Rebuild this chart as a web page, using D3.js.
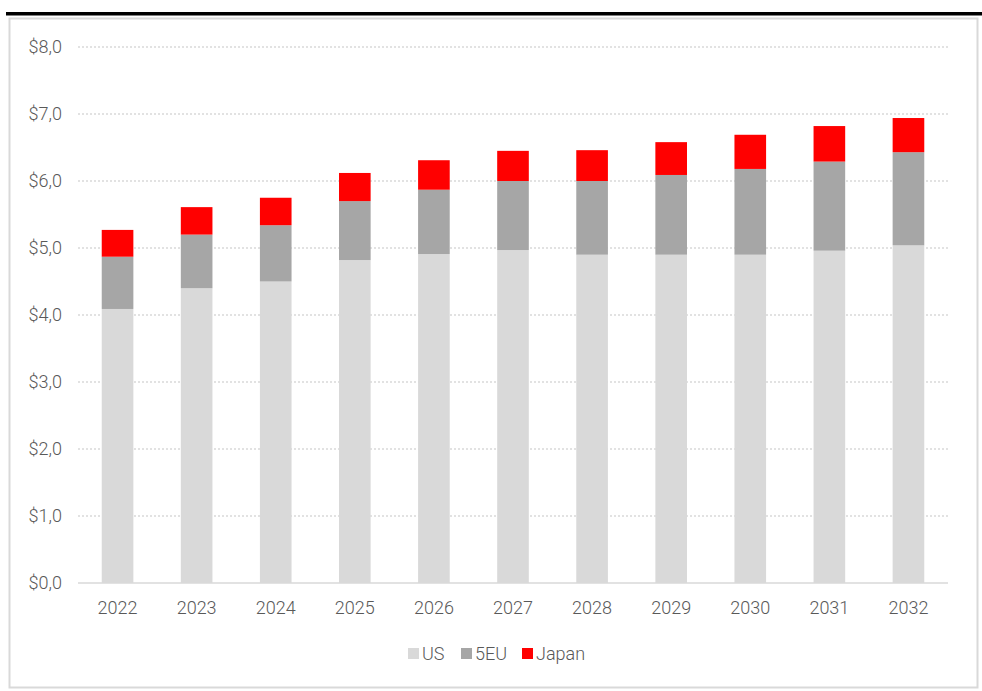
<!DOCTYPE html>
<html>
<head>
<meta charset="utf-8">
<script src="https://cdn.jsdelivr.net/npm/d3@7"></script>
<style>
  body { margin: 0; background: #fff; }
  text { font-family: Roboto, "Liberation Sans", sans-serif; font-weight: 300; }
</style>
</head>
<body>
<svg width="982" height="691"></svg>
<script>
const years = ['2022', '2023', '2024', '2025', '2026', '2027', '2028', '2029', '2030', '2031', '2032']
const us = [4.09, 4.40, 4.50, 4.82, 4.91, 4.97, 4.90, 4.90, 4.90, 4.96, 5.04]
const eu5 = [0.78, 0.80, 0.84, 0.88, 0.96, 1.03, 1.10, 1.19, 1.28, 1.33, 1.39]
const japan = [0.40, 0.41, 0.41, 0.42, 0.44, 0.45, 0.46, 0.49, 0.51, 0.53, 0.51]
const yTicks = [0, 1, 2, 3, 4, 5, 6, 7, 8]
const seriesNames = ['US', '5EU', 'Japan']
const colors = ['#d9d9d9', '#a6a6a6', '#ff0000']

const padding = { top: 47, bottom: 583, left: 78, right: 948 }

const svg = d3.select('svg')

// top rule and frame
svg.append('rect')
  .attr('x', 6).attr('y', 12).attr('width', 976).attr('height', 3.5)
  .attr('fill', '#000')
svg.append('rect')
  .attr('x', 9.5).attr('y', 18.5).attr('width', 968).attr('height', 669)
  .attr('fill', 'none').attr('stroke', '#d9d9d9').attr('stroke-width', 2)

const table = years.map((y, i) => ({ year: y, US: us[i], '5EU': eu5[i], Japan: japan[i] }))
const stacked = d3.stack().keys(seriesNames)(table)

const xScale = d3.scaleBand()
  .domain(years)
  .range([padding.left, padding.right])
  .paddingInner(0.6)
  .paddingOuter(0.3)

const yScale = d3.scaleLinear()
  .domain([0, 8])
  .range([padding.bottom, padding.top])

// gridlines
svg.append('g')
  .selectAll('line')
  .data(yTicks.slice(1))
  .enter()
  .append('line')
  .attr('x1', padding.left)
  .attr('x2', padding.right)
  .attr('y1', d => yScale(d))
  .attr('y2', d => yScale(d))
  .attr('stroke', '#d9d9d9')
  .attr('stroke-width', 1.3)
  .attr('stroke-dasharray', '2,2')

// bars
svg.append('g')
  .selectAll('g')
  .data(stacked)
  .enter()
  .append('g')
  .attr('fill', (d, i) => colors[i])
  .selectAll('rect')
  .data(d => d)
  .enter()
  .append('rect')
  .attr('x', d => xScale(d.data.year))
  .attr('width', xScale.bandwidth())
  .attr('y', d => yScale(d[1]))
  .attr('height', d => yScale(d[0]) - yScale(d[1]))

// baseline
svg.append('line')
  .attr('x1', padding.left).attr('x2', padding.right)
  .attr('y1', yScale(0)).attr('y2', yScale(0))
  .attr('stroke', '#d9d9d9').attr('stroke-width', 1.3)

// y labels
const fmt = d => '$' + d.toFixed(1).replace('.', ',')
svg.append('g')
  .selectAll('text')
  .data(yTicks)
  .enter()
  .append('text')
  .attr('x', 62)
  .attr('y', d => yScale(d) + 6)
  .attr('text-anchor', 'end')
  .attr('fill', '#595959')
  .style('font-size', '18px')
  .text(fmt)

// x labels
svg.append('g')
  .selectAll('text')
  .data(years)
  .enter()
  .append('text')
  .attr('x', d => xScale(d) + xScale.bandwidth() / 2)
  .attr('y', 614)
  .attr('text-anchor', 'middle')
  .attr('fill', '#595959')
  .style('font-size', '18px')
  .text(d => d)

// legend
const legendX = [408, 461, 522]
const legend = svg.append('g')
  .selectAll('g')
  .data(seriesNames)
  .enter()
  .append('g')
  .attr('transform', (d, i) => `translate(${legendX[i]}, 648)`)
legend.append('rect')
  .attr('width', 11).attr('height', 11)
  .attr('fill', (d, i) => colors[i])
legend.append('text')
  .attr('x', 14)
  .attr('y', 12)
  .attr('fill', '#595959')
  .style('font-size', '18px')
  .text(d => d)
</script>
</body>
</html>
